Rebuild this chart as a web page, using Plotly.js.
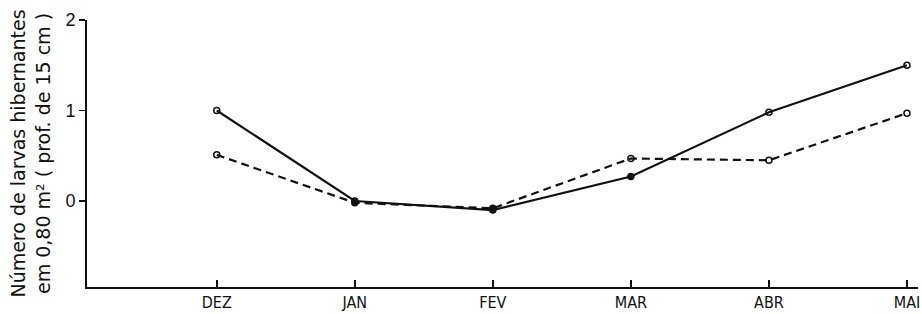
<!DOCTYPE html>
<html>
<head>
<meta charset="utf-8">
<script src="https://cdn.plot.ly/plotly-3.0.1.min.js"></script>
<style>html,body{margin:0;padding:0;background:#fff;}#chart{width:922px;height:314px;}</style>
</head>
<body>
<div id="chart"></div>
<script>
const months = ['DEZ', 'JAN', 'FEV', 'MAR', 'ABR', 'MAI'];
const seriesSolid = [1.0, 0.0, -0.1, 0.27, 0.98, 1.5];
const seriesDashed = [0.51, -0.02, -0.08, 0.47, 0.45, 0.97];
const yTickVals = [0, 1, 2];
const yTickText = ['0', '1', '2'];

const solidSymbols = ['circle-open', 'circle', 'circle', 'circle', 'circle-open', 'circle-open'];
const dashedSymbols = ['circle-open', 'circle', 'circle', 'circle-open', 'circle-open', 'circle-open'];

const traces = [
  {
    x: months, y: seriesDashed, type: 'scatter', mode: 'lines+markers',
    line: {color: '#111', width: 2.2, dash: '8px,5px'},
    marker: {symbol: dashedSymbols, size: 6, color: '#111', line: {color: '#111', width: 1.5}},
    showlegend: false, cliponaxis: false
  },
  {
    x: months, y: seriesSolid, type: 'scatter', mode: 'lines+markers',
    line: {color: '#111', width: 2.2},
    marker: {symbol: solidSymbols, size: 6, color: '#111', line: {color: '#111', width: 1.5}},
    showlegend: false, cliponaxis: false
  }
];

const layout = {
  width: 922, height: 314,
  margin: {l: 87, r: 4, t: 20, b: 27},
  paper_bgcolor: '#fff', plot_bgcolor: '#fff',
  font: {family: 'Liberation Sans, Arial, sans-serif', color: '#111'},
  xaxis: {
    type: 'category', range: [-0.94, 5.08],
    showline: true, linecolor: '#111', linewidth: 2,
    ticks: 'inside', ticklen: 7, tickwidth: 1.5, tickcolor: '#111',
    showgrid: false, zeroline: false,
    tickfont: {size: 16, family: 'DejaVu Sans Condensed, Liberation Sans, sans-serif'},
    fixedrange: true
  },
  yaxis: {
    range: [-0.95, 2],
    tickvals: yTickVals, ticktext: yTickText,
    showline: true, linecolor: '#111', linewidth: 2,
    ticks: 'outside', ticklen: 6, tickwidth: 1.5, tickcolor: '#111',
    showgrid: false, zeroline: false,
    tickfont: {size: 18},
    title: {text: 'Número de larvas hibernantes<br>em 0,80 m² ( prof. de 15 cm )', font: {size: 19, family: 'DejaVu Sans, sans-serif'}, standoff: 10},
    automargin: false,
    fixedrange: true
  }
};

Plotly.newPlot('chart', traces, layout, {displayModeBar: false, staticPlot: true});
</script>
</body>
</html>
